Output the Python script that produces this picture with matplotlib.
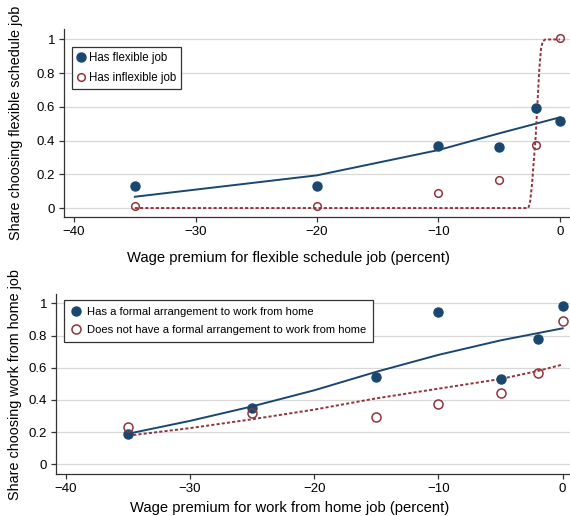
import matplotlib
matplotlib.use("Agg")
import matplotlib.pyplot as plt

plt.rcParams['font.family'] = ['Liberation Sans', 'DejaVu Sans']

navy = '#1a476f'
maroon = '#90353b'
grid_c = '#d8d8d8'

# Flexible schedule experiment
flex_premium = [-35, -20, -10, -5, -2, 0]
flex_has = [0.13, 0.13, 0.37, 0.36, 0.595, 0.515]
flex_not = [0.01, 0.015, 0.09, 0.166, 0.376, 1.01]
flex_fit_x = [-35, -20, -10, -5, -2, 0]
flex_fit_has = [0.067, 0.194, 0.344, 0.443, 0.500, 0.538]
inflex_fit_x = [-35, -2.6, -2.45, -2.3, -2.15, -2.0, -1.85, -1.7, -1.55, -1.4, -1.2, 0]
inflex_fit = [0.0, 0.0, 0.04, 0.14, 0.28, 0.42, 0.62, 0.82, 0.95, 0.99, 1.0, 1.0]

# Work from home experiment
wfh_premium = [-35, -25, -15, -10, -5, -2, 0]
wfh_formal = [0.19, 0.348, 0.544, 0.948, 0.532, 0.776, 0.983]
wfh_none = [0.234, 0.32, 0.294, 0.373, 0.445, 0.569, 0.89]
wfh_fit_x = [-35, -30, -25, -20, -15, -10, -5, -2, 0]
wfh_fit_formal = [0.19, 0.27, 0.36, 0.46, 0.575, 0.68, 0.77, 0.815, 0.845]
wfh_fit_none = [0.178, 0.225, 0.28, 0.34, 0.41, 0.47, 0.53, 0.58, 0.62]

yticks = [0, 0.2, 0.4, 0.6, 0.8, 1]
ylabels = ['0', '0.2', '0.4', '0.6', '0.8', '1']
xticks = [-40, -30, -20, -10, 0]

fig = plt.figure(figsize=(5.7, 5.16), dpi=100)
ax1 = fig.add_axes([0.1123, 0.5795, 0.8877, 0.3643])
ax2 = fig.add_axes([0.0982, 0.0808, 0.9018, 0.3494])

dotted = (0, (1.6, 1.1))


def style(ax, xlim, ylim):
    ax.set_xlim(*xlim)
    ax.set_ylim(*ylim)
    ax.set_yticks(yticks)
    ax.set_yticklabels(ylabels)
    ax.set_xticks(xticks)
    ax.set_xticklabels([f'\u2212{-t}' if t < 0 else str(t) for t in xticks])
    for s in ['top', 'right']:
        ax.spines[s].set_visible(False)
    for s in ['left', 'bottom']:
        ax.spines[s].set_color('#333333')
        ax.spines[s].set_linewidth(0.9)
    ax.tick_params(direction='out', length=3.8, width=0.9, color='#333333',
                   labelsize=9.5, pad=2.5)
    ax.grid(axis='y', color=grid_c, lw=0.9)
    ax.set_axisbelow(True)


# Top panel
style(ax1, (-40.83, 0.83), (-0.053, 1.062))
ax1.plot(flex_fit_x, flex_fit_has, color=navy, lw=1.4, zorder=3)
ax1.plot(inflex_fit_x, inflex_fit, color=maroon, lw=1.4, ls=dotted, zorder=3)
ax1.plot(flex_premium, flex_has, 'o', color=navy, ms=6.5, ls='none',
         label='Has flexible job', zorder=4)
ax1.plot(flex_premium, flex_not, 'o', mfc='none', mec=maroon, mew=1.1, ms=5.5,
         ls='none', label='Has inflexible job', zorder=4)
ax1.set_xlabel('Wage premium for flexible schedule job (percent)', fontsize=10.6)
ax1.set_ylabel('Share choosing flexible schedule job', fontsize=10.4)
ax1.xaxis.set_label_coords((288 - 64) / 506, -34 / 188)
ax1.yaxis.set_label_coords(-41 / 506, 0.5)
leg1 = ax1.legend(loc='upper left', bbox_to_anchor=(8 / 506, 1 - 18 / 188),
                  borderaxespad=0, fontsize=8.3, handlelength=0.8, handletextpad=0.3,
                  borderpad=0.4, labelspacing=0.72, fancybox=False, framealpha=1,
                  edgecolor='#333333')
leg1.get_frame().set_linewidth(0.9)

# Bottom panel
style(ax2, (-40.8, 0.59), (-0.062, 1.058))
ax2.plot(wfh_fit_x, wfh_fit_formal, color=navy, lw=1.4, zorder=3)
ax2.plot(wfh_fit_x, wfh_fit_none, color=maroon, lw=1.4, ls=dotted, zorder=3)
ax2.plot(wfh_premium, wfh_formal, 'o', color=navy, ms=6.5, ls='none',
         label='Has a formal arrangement to work from home', zorder=4)
ax2.plot(wfh_premium, wfh_none, 'o', mfc='none', mec=maroon, mew=1.1, ms=6.5,
         ls='none', label='Does not have a formal arrangement to work from home', zorder=4)
ax2.set_xlabel('Wage premium for work from home job (percent)', fontsize=10.6)
ax2.set_ylabel('Share choosing work from home job', fontsize=10.4)
ax2.xaxis.set_label_coords((289.7 - 56) / 514, -27 / 180)
ax2.yaxis.set_label_coords(-34 / 514, 0.5)
leg2 = ax2.legend(loc='upper left', bbox_to_anchor=(8 / 514, 1 - 6 / 180),
                  borderaxespad=0, fontsize=8.1, handlelength=1.0, handletextpad=0.45,
                  borderpad=0.6, labelspacing=0.75, fancybox=False, framealpha=1,
                  edgecolor='#333333')
leg2.get_frame().set_linewidth(0.9)

fig.savefig('out.png', dpi=100)
